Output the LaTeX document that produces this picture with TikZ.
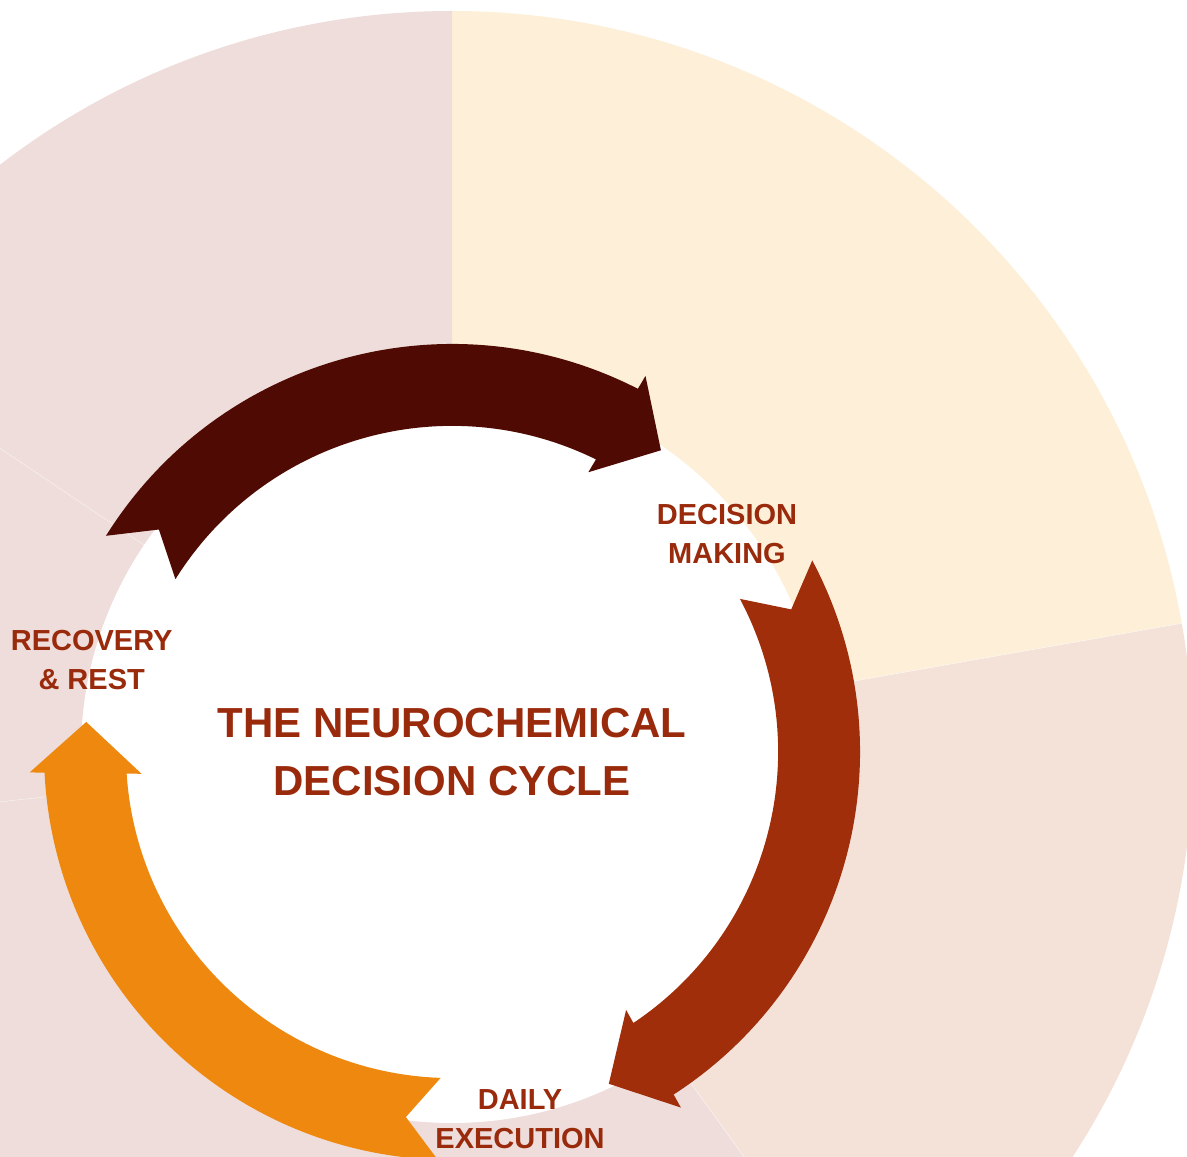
\documentclass[tikz,border=0pt]{standalone}
\usepackage{fontspec}
\setmainfont{Liberation Sans}

\definecolor{sectorgold}{HTML}{FEF0D8}
\definecolor{sectorpeach}{HTML}{F4E2D8}
\definecolor{sectorrose}{HTML}{EEDDDA}
\definecolor{arrowdark}{HTML}{4F0B03}
\definecolor{arrowrust}{HTML}{A02E0A}
\definecolor{arrowamber}{HTML}{EF880E}
\definecolor{labelred}{HTML}{9A2A0C}

% One curved cycle arrow on the ring (inner radius 326pt, outer 408pt),
% running clockwise from a notched tail to a pointed head.
% #1 = fill colour, #2 = angular offset of the whole arrow
\newcommand\cyclearrow[2]{%
  \fill[#1] ({148.0+#2}:408pt)
    arc[start angle={148.0+#2}, end angle={62.9+#2}, radius=408pt]
    -- ({62.77+#2}:422.9pt)
    -- ({55.3+#2}:367pt)
    -- ({64.02+#2}:311.2pt)
    -- ({63.8+#2}:326.1pt)
    arc[start angle={63.8+#2}, end angle={148.0+#2}, radius=326.1pt]
    -- ({142.8+#2}:368pt)
    -- cycle;}

\tikzset{
  separator/.style={draw=white, line width=0.35pt, draw opacity=0.8},
  lbl/.style={font=\fontsize{29}{39}\selectfont\bfseries, text=labelred,
              align=center, inner sep=0pt},
  ttl/.style={font=\fontsize{42}{57.7}\selectfont\bfseries, text=labelred,
              align=center, inner sep=0pt}
}

\begin{document}
\begin{tikzpicture}
  % page area
  \fill[white] (0pt,0pt) rectangle (1187pt,1157pt);
  \useasboundingbox (0pt,0pt) rectangle (1187pt,1157pt);

  \begin{scope}
    \clip (0pt,0pt) rectangle (1187pt,1157pt);
    \begin{scope}[shift={(452pt,405pt)}]
      % background sectors
      \fill[sectorgold] (0,0) -- (10:741pt)
        arc[start angle=10, end angle=90, radius=741pt] -- cycle;
      \fill[sectorpeach] (0,0) -- (-54.2:741pt)
        arc[start angle=-54.2, end angle=10, radius=741pt] -- cycle;
      \fill[sectorrose] (0,0) -- (90:741pt)
        arc[start angle=90, end angle=305.8, radius=741pt] -- cycle;
      % thin seams between the sectors
      \foreach \a in {10,-54.2,146.1,186.3}
        \draw[separator] (0,0) -- (\a:741pt);

      % central disc
      \fill[white] (0,0) circle[radius=371pt];

      % the three cycle arrows
      \cyclearrow{arrowdark}{0}
      \cyclearrow{arrowrust}{-120}
      \cyclearrow{arrowamber}{-240}
    \end{scope}
  \end{scope}

  % stage labels
  \node[lbl] (decision) at (727pt,623.3pt) {DECISION\\MAKING};
  \node[lbl] (daily)    at (520pt,38.2pt)  {DAILY\\EXECUTION};
  \node[lbl] (recovery) at (91.7pt,497pt)  {RECOVERY\\\& REST};

  % title
  \node[ttl] (title) at (452pt,404.7pt) {THE NEUROCHEMICAL\\DECISION CYCLE};
\end{tikzpicture}
\end{document}
